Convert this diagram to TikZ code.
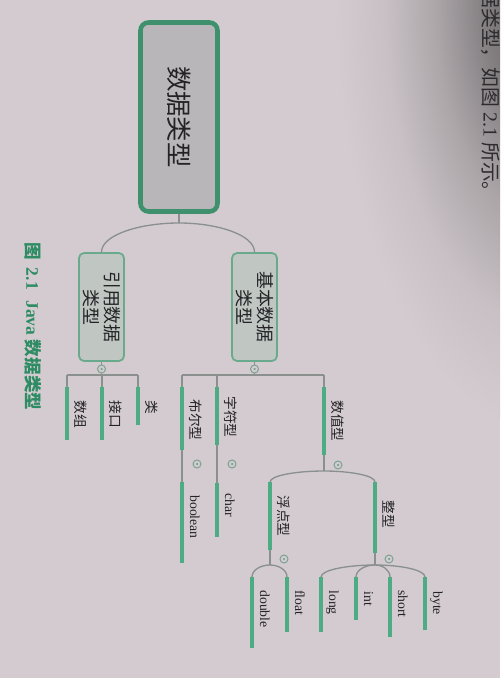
\documentclass[tikz,border=0pt]{standalone}
\usepackage{fontspec}
\setmainfont{Liberation Serif}
\newfontfamily\cjk{Noto Sans CJK SC}
\usetikzlibrary{calc}
\definecolor{bgc}{RGB}{212,203,208}
\definecolor{shadea}{RGB}{100,97,99}
\definecolor{shadeb}{RGB}{130,126,128}
\definecolor{shadec}{RGB}{172,166,169}
\definecolor{shaded}{RGB}{200,192,196}
\definecolor{rootg}{RGB}{62,145,108}
\definecolor{ulg}{RGB}{78,172,132}
\definecolor{subg}{RGB}{105,170,140}
\definecolor{conng}{RGB}{138,144,141}
\definecolor{knobc}{RGB}{118,162,142}
\definecolor{rootfill}{RGB}{184,182,184}
\definecolor{subfill}{RGB}{192,199,195}
\definecolor{txt}{RGB}{35,35,38}
\definecolor{capg}{RGB}{45,140,100}
\definecolor{pagetxt}{RGB}{45,43,45}
\pgfdeclareradialshading{pagesh}{\pgfpoint{0bp}{0bp}}{color(0bp)=(shadea); color(7bp)=(shadeb); color(13bp)=(shadec); color(19bp)=(shaded); color(25bp)=(bgc); color(50bp)=(bgc)}
\tikzset{
  conn/.style={draw=conng, line width=0.75pt},
  uline/.style={draw=ulg, line width=1.9pt},
  knob/.style={circle, draw=knobc, line width=0.55pt, fill=bgc, minimum size=0.16cm, inner sep=0pt,
    path picture={\fill[knobc] (path picture bounding box.center) circle (0.025cm);}},
  leaf/.style={rotate=-90, anchor=base west, inner sep=0pt, text=txt, font=\fontsize{7.8}{9}\selectfont},
  rootbox/.style={rotate=-90, rounded corners=0.16cm, draw=rootg, line width=2.6pt, fill=rootfill,
    minimum width=3.78cm, minimum height=1.54cm, inner sep=0pt, text=txt, font=\cjk\fontsize{14.5}{16}\selectfont},
  subbox/.style={rotate=-90, rounded corners=0.1cm, draw=subg, line width=1pt, fill=subfill,
    minimum width=2.16cm, minimum height=0.9cm, inner sep=0pt, align=center, text=txt,
    font=\cjk\fontsize{10.2}{12}\selectfont},
}
\newcommand\mmbranch[7]{%
  \coordinate (#1-t) at (#2,#3);
  \coordinate (#1-a) at (#2,#4);
  \coordinate (#1-b) at (#2,#5);
  \draw[conn] (#1-t) -- (#1-a);
  \draw[uline] (#1-a) -- (#1-b);
  \node[leaf] (#1) at ($(#1-a)+(8,#6-#4)$) {#7};
}
\newcommand\mmcurve[2]{%
  \draw[conn] let \p1=(#1), \p2=(#2) in
    (\p1) .. controls (0.5*\x1+0.5*\x2,\y1) and (\x2,0.6*\y1+0.4*\y2) .. (\p2);
}
\begin{document}
\begin{tikzpicture}[x=0.02cm,y=-0.02cm]
\useasboundingbox (0,0) rectangle (500,678);
\fill[bgc] (0,0) rectangle (500,678);
\begin{scope}
\clip (0,0) rectangle (500,678);
\shade[shading=pagesh] (545,0) ellipse [x radius=210, y radius=430];
\end{scope}

% page text
\node[rotate=-90, anchor=west, inner sep=0pt, text=pagetxt, font=\fontsize{11.3}{13}\selectfont] (pg) at (491,-12)
  {{\cjk 据类型，如图} 2.1 {\cjk 所示。}};

% caption
\node[rotate=-90, anchor=west, inner sep=0pt, text=capg, font=\fontsize{10}{12}\selectfont\bfseries] (cap) at (33,242)
  {{\cjk 图}\hspace{0.45em}2.1\hspace{0.6em}Java {\cjk 数据类型}};

% boxes
\node[rootbox] (root) at (179,117) {数据类型};
\node[subbox] (ref) at (101.5,307) {引用数据\\类型};
\node[subbox] (bas) at (254.5,307) {基本数据\\类型};

\coordinate (rs) at (179,223);
\draw[conn] (root.east) -- (rs);
\mmcurve{rs}{ref.west}
\mmcurve{rs}{bas.west}

% reference types
\coordinate (rb) at (101.5,375);
\coordinate (rbl) at (67,375);
\coordinate (rbr) at (138,375);
\draw[conn] (ref.east) -- (rb);
\draw[conn] (rbl) -- (rbr);
\mmbranch{arr}{67}{375}{387}{440}{400}{\cjk 数组}
\mmbranch{ifc}{102}{375}{387}{440}{400}{\cjk 接口}
\mmbranch{cls}{138}{375}{387}{425}{400}{\cjk 类}

% primitive types
\coordinate (bb) at (254.5,375);
\coordinate (bbl) at (182,375);
\coordinate (bbr) at (324,375);
\draw[conn] (bas.east) -- (bb);
\draw[conn] (bbl) -- (bbr);
\mmbranch{bool}{182}{375}{387}{450}{399}{\cjk 布尔型}
\mmbranch{boolean}{182}{450}{482}{563}{495}{boolean}
\mmbranch{chr}{217}{375}{387}{445}{396}{\cjk 字符型}
\mmbranch{char}{217}{445}{483}{537}{493}{char}
\mmbranch{num}{324}{375}{387}{455}{400}{\cjk 数值型}
\coordinate (numf) at (324,471);
\draw[conn] (num-b) -- (numf);
\mmbranch{flt}{270}{482}{482}{550}{495}{\cjk 浮点型}
\mmbranch{intg}{375}{482}{482}{553}{500}{\cjk 整型}
\mmcurve{numf}{flt-t}
\mmcurve{numf}{intg-t}
\coordinate (fltf) at (270,565);
\draw[conn] (flt-b) -- (fltf);
\mmbranch{double}{252}{577}{577}{648}{590}{double}
\mmbranch{float}{287}{577}{577}{632}{590}{float}
\mmcurve{fltf}{double-t}
\mmcurve{fltf}{float-t}
\coordinate (intf) at (375,565);
\draw[conn] (intg-b) -- (intf);
\mmbranch{long}{321}{577}{577}{632}{590}{long}
\mmbranch{int}{356}{577}{577}{620}{591}{int}
\mmbranch{short}{390}{577}{577}{637}{590}{short}
\mmbranch{byte}{425}{577}{577}{630}{591}{byte}
\mmcurve{intf}{long-t}
\mmcurve{intf}{int-t}
\mmcurve{intf}{short-t}
\mmcurve{intf}{byte-t}

% knobs
\node[knob] (k1) at (101.5,369) {};
\node[knob] (k2) at (254.5,369) {};
\node[knob] (k3) at (197,464) {};
\node[knob] (k4) at (232,464) {};
\node[knob] (k5) at (338,465) {};
\node[knob] (k6) at (284,559) {};
\node[knob] (k7) at (389,559) {};
\end{tikzpicture}
\end{document}
